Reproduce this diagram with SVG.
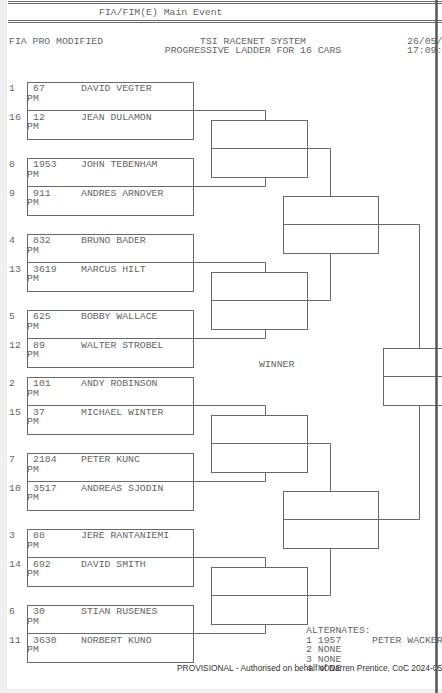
<svg xmlns="http://www.w3.org/2000/svg" width="442" height="693" viewBox="0 0 442 693">
<style>
.t{font-family:"Liberation Mono","DejaVu Sans Mono",monospace;font-size:9.8px;fill:#666}
.f{font-family:"Liberation Sans",Arial,sans-serif;font-size:8.4px;fill:#333}
.b{fill:none;stroke:#6a6a6a;stroke-width:1}
.c{fill:none;stroke:#6a6a6a;stroke-width:1}
</style>
<rect x="0" y="0" width="442" height="693" fill="#fff"/>
<rect x="0" y="0" width="7" height="693" fill="#f0f0f0"/>
<rect x="0" y="689" width="442" height="4" fill="#f0f0f0"/>
<g id="header">
<line class="c" x1="8" y1="1.5" x2="442" y2="1.5"/>
<line class="c" x1="8" y1="3.5" x2="442" y2="3.5"/>
<line class="c" x1="8" y1="20.5" x2="442" y2="20.5"/>
<line class="c" x1="8" y1="22.5" x2="442" y2="22.5"/>
<text class="t" x="99" y="15">FIA/FIM(E) Main Event</text>
<text class="t" x="9" y="44">FIA PRO MODIFIED</text>
<text class="t" x="253" y="43.5" text-anchor="middle">TSI RACENET SYSTEM</text>
<text class="t" x="253" y="53" text-anchor="middle">PROGRESSIVE LADDER FOR 16 CARS</text>
<text class="t" x="407" y="43.5">26/05/</text>
<text class="t" x="407" y="53">17:09:</text>
</g>
<g id="connectors">
<line class="c" x1="193" y1="110.5" x2="265.5" y2="110.5"/><line class="c" x1="265.5" y1="110.5" x2="265.5" y2="120.5"/>
<line class="c" x1="193" y1="186.5" x2="265.5" y2="186.5"/><line class="c" x1="265.5" y1="186.5" x2="265.5" y2="177.5"/>
<line class="c" x1="193" y1="262.5" x2="265.5" y2="262.5"/><line class="c" x1="265.5" y1="262.5" x2="265.5" y2="272.5"/>
<line class="c" x1="193" y1="338.5" x2="265.5" y2="338.5"/><line class="c" x1="265.5" y1="338.5" x2="265.5" y2="329.5"/>
<line class="c" x1="193" y1="405.5" x2="265.5" y2="405.5"/><line class="c" x1="265.5" y1="405.5" x2="265.5" y2="415.5"/>
<line class="c" x1="193" y1="481.5" x2="265.5" y2="481.5"/><line class="c" x1="265.5" y1="481.5" x2="265.5" y2="472.5"/>
<line class="c" x1="193" y1="557.5" x2="265.5" y2="557.5"/><line class="c" x1="265.5" y1="557.5" x2="265.5" y2="567.5"/>
<line class="c" x1="193" y1="633.5" x2="265.5" y2="633.5"/><line class="c" x1="265.5" y1="633.5" x2="265.5" y2="624.5"/>
<line class="c" x1="307" y1="148.5" x2="330.5" y2="148.5"/><line class="c" x1="330.5" y1="148.5" x2="330.5" y2="196.5"/>
<line class="c" x1="307" y1="300.5" x2="330.5" y2="300.5"/><line class="c" x1="330.5" y1="300.5" x2="330.5" y2="253.5"/>
<line class="c" x1="307" y1="443.5" x2="330.5" y2="443.5"/><line class="c" x1="330.5" y1="443.5" x2="330.5" y2="491.5"/>
<line class="c" x1="307" y1="595.5" x2="330.5" y2="595.5"/><line class="c" x1="330.5" y1="595.5" x2="330.5" y2="548.5"/>
<line class="c" x1="378" y1="224.5" x2="419.5" y2="224.5"/><line class="c" x1="419.5" y1="224.5" x2="419.5" y2="348.5"/>
<line class="c" x1="378" y1="519.5" x2="419.5" y2="519.5"/><line class="c" x1="419.5" y1="519.5" x2="419.5" y2="405.5"/>
</g>
<g id="r1-1"><rect class="b" x="27.5" y="82.5" width="166" height="57"/><line class="c" x1="27.5" y1="110.5" x2="193.5" y2="110.5"/>
<text class="t" x="9" y="91">1</text><text class="t" x="33" y="91">67</text><text class="t" x="81" y="91">DAVID VEGTER</text><text class="t" x="27" y="100.5">PM</text>
<text class="t" x="9" y="119.5">16</text><text class="t" x="33" y="119.5">12</text><text class="t" x="81" y="119.5">JEAN DULAMON</text><text class="t" x="27" y="129">PM</text></g>
<g id="r1-2"><rect class="b" x="27.5" y="158.5" width="166" height="57"/><line class="c" x1="27.5" y1="186.5" x2="193.5" y2="186.5"/>
<text class="t" x="9" y="167">8</text><text class="t" x="33" y="167">1953</text><text class="t" x="81" y="167">JOHN TEBENHAM</text><text class="t" x="27" y="176.5">PM</text>
<text class="t" x="9" y="195.5">9</text><text class="t" x="33" y="195.5">911</text><text class="t" x="81" y="195.5">ANDRES ARNOVER</text><text class="t" x="27" y="205">PM</text></g>
<g id="r1-3"><rect class="b" x="27.5" y="234.5" width="166" height="57"/><line class="c" x1="27.5" y1="262.5" x2="193.5" y2="262.5"/>
<text class="t" x="9" y="243">4</text><text class="t" x="33" y="243">832</text><text class="t" x="81" y="243">BRUNO BADER</text><text class="t" x="27" y="252.5">PM</text>
<text class="t" x="9" y="271.5">13</text><text class="t" x="33" y="271.5">3619</text><text class="t" x="81" y="271.5">MARCUS HILT</text><text class="t" x="27" y="281">PM</text></g>
<g id="r1-4"><rect class="b" x="27.5" y="310.5" width="166" height="57"/><line class="c" x1="27.5" y1="338.5" x2="193.5" y2="338.5"/>
<text class="t" x="9" y="319">5</text><text class="t" x="33" y="319">625</text><text class="t" x="81" y="319">BOBBY WALLACE</text><text class="t" x="27" y="328.5">PM</text>
<text class="t" x="9" y="347.5">12</text><text class="t" x="33" y="347.5">89</text><text class="t" x="81" y="347.5">WALTER STROBEL</text><text class="t" x="27" y="357">PM</text></g>
<g id="r1-5"><rect class="b" x="27.5" y="377.5" width="166" height="57"/><line class="c" x1="27.5" y1="405.5" x2="193.5" y2="405.5"/>
<text class="t" x="9" y="386">2</text><text class="t" x="33" y="386">101</text><text class="t" x="81" y="386">ANDY ROBINSON</text><text class="t" x="27" y="395.5">PM</text>
<text class="t" x="9" y="414.5">15</text><text class="t" x="33" y="414.5">37</text><text class="t" x="81" y="414.5">MICHAEL WINTER</text><text class="t" x="27" y="424">PM</text></g>
<g id="r1-6"><rect class="b" x="27.5" y="453.5" width="166" height="57"/><line class="c" x1="27.5" y1="481.5" x2="193.5" y2="481.5"/>
<text class="t" x="9" y="462">7</text><text class="t" x="33" y="462">2184</text><text class="t" x="81" y="462">PETER KUNC</text><text class="t" x="27" y="471.5">PM</text>
<text class="t" x="9" y="490.5">10</text><text class="t" x="33" y="490.5">3517</text><text class="t" x="81" y="490.5">ANDREAS SJODIN</text><text class="t" x="27" y="500">PM</text></g>
<g id="r1-7"><rect class="b" x="27.5" y="529.5" width="166" height="57"/><line class="c" x1="27.5" y1="557.5" x2="193.5" y2="557.5"/>
<text class="t" x="9" y="538">3</text><text class="t" x="33" y="538">88</text><text class="t" x="81" y="538">JERE RANTANIEMI</text><text class="t" x="27" y="547.5">PM</text>
<text class="t" x="9" y="566.5">14</text><text class="t" x="33" y="566.5">692</text><text class="t" x="81" y="566.5">DAVID SMITH</text><text class="t" x="27" y="576">PM</text></g>
<g id="r1-8"><rect class="b" x="27.5" y="605.5" width="166" height="57"/><line class="c" x1="27.5" y1="633.5" x2="193.5" y2="633.5"/>
<text class="t" x="9" y="614">6</text><text class="t" x="33" y="614">30</text><text class="t" x="81" y="614">STIAN RUSENES</text><text class="t" x="27" y="623.5">PM</text>
<text class="t" x="9" y="642.5">11</text><text class="t" x="33" y="642.5">3630</text><text class="t" x="81" y="642.5">NORBERT KUNO</text><text class="t" x="27" y="652">PM</text></g>
<g id="r2-1"><rect class="b" x="211.5" y="120.5" width="96" height="57"/><line class="c" x1="211.5" y1="148.5" x2="307.5" y2="148.5"/></g>
<g id="r2-2"><rect class="b" x="211.5" y="272.5" width="96" height="57"/><line class="c" x1="211.5" y1="300.5" x2="307.5" y2="300.5"/></g>
<g id="r2-3"><rect class="b" x="211.5" y="415.5" width="96" height="57"/><line class="c" x1="211.5" y1="443.5" x2="307.5" y2="443.5"/></g>
<g id="r2-4"><rect class="b" x="211.5" y="567.5" width="96" height="57"/><line class="c" x1="211.5" y1="595.5" x2="307.5" y2="595.5"/></g>
<g id="r3-1"><rect class="b" x="283.5" y="196.5" width="95" height="57"/><line class="c" x1="283.5" y1="224.5" x2="378.5" y2="224.5"/></g>
<g id="r3-2"><rect class="b" x="283.5" y="491.5" width="95" height="57"/><line class="c" x1="283.5" y1="519.5" x2="378.5" y2="519.5"/></g>
<g id="final"><rect class="b" x="383.5" y="348.5" width="70" height="57"/><line class="c" x1="383.5" y1="376.5" x2="442" y2="376.5"/></g>
<g id="winner"><text class="t" x="259" y="366.5">WINNER</text></g>
<g id="alternates">
<text class="t" x="306" y="633">ALTERNATES:</text>
<text class="t" x="306" y="642.5">1 1957</text><text class="t" x="372" y="642.5">PETER WACKER</text>
<text class="t" x="306" y="652">2 NONE</text>
<text class="t" x="306" y="661.5">3 NONE</text>
<text class="t" x="306" y="671">4 NONE</text>
</g>
<g id="footer"><text class="f" x="177" y="671">PROVISIONAL - Authorised on behalf of Darren Prentice, CoC 2024-05-</text></g>
<line x1="436.5" y1="0" x2="436.5" y2="693" stroke="#555" stroke-width="2.5"/>
</svg>
